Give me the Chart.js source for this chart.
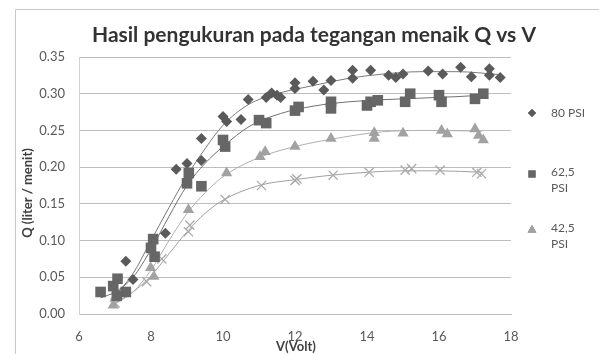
<!DOCTYPE html>
<html>
<head>
<meta charset="utf-8">
<script src="https://cdn.jsdelivr.net/npm/chart.js@4.4.1/dist/chart.umd.min.js"></script>
<style>
  html, body { margin: 0; padding: 0; background: #fff; }
  canvas { display: block; }
</style>
</head>
<body>
<canvas id="chart" width="599" height="354"></canvas>
<script>
// measured points, V (volt) vs Q (liter / menit)
const v80 = [7.3, 7.5, 8.4, 8.7, 9.0, 9.4, 9.4, 10.0, 10.1, 10.5, 10.7, 11.2, 11.35, 11.5, 11.6, 12.0, 12.0, 12.5, 12.8, 13.0, 13.6, 13.6, 14.1, 14.6, 14.8, 15.0, 15.7, 16.1, 16.6, 16.9, 17.4, 17.4, 17.7];
const q80 = [0.072, 0.047, 0.110, 0.197, 0.205, 0.239, 0.209, 0.269, 0.262, 0.265, 0.292, 0.295, 0.301, 0.298, 0.295, 0.315, 0.307, 0.317, 0.305, 0.318, 0.332, 0.321, 0.332, 0.325, 0.322, 0.327, 0.331, 0.327, 0.336, 0.323, 0.334, 0.325, 0.322];

const v62 = [6.6, 6.95, 7.07, 7.3, 7.05, 8.06, 8.0, 8.1, 9.0, 9.05, 9.4, 10.0, 10.06, 11.0, 11.2, 12.0, 12.1, 13.0, 13.0, 14.0, 14.1, 14.3, 15.06, 15.2, 16.0, 16.07, 17.0, 17.23];
const q62 = [0.030, 0.038, 0.048, 0.030, 0.025, 0.102, 0.090, 0.078, 0.178, 0.192, 0.174, 0.237, 0.228, 0.264, 0.260, 0.277, 0.282, 0.289, 0.280, 0.284, 0.289, 0.291, 0.289, 0.300, 0.298, 0.289, 0.293, 0.300];

const v42 = [6.95, 7.0, 7.99, 8.08, 9.04, 10.1, 11.03, 11.17, 12.0, 13.0, 14.2, 14.2, 15.0, 16.07, 16.23, 17.0, 17.1, 17.23];
const q42 = [0.012, 0.021, 0.063, 0.051, 0.142, 0.192, 0.214, 0.221, 0.228, 0.239, 0.247, 0.239, 0.246, 0.250, 0.245, 0.252, 0.243, 0.237];

const v22 = [7.0, 7.88, 8.3, 9.04, 9.08, 10.06, 11.07, 12.0, 12.05, 13.06, 14.06, 15.06, 15.24, 16.03, 17.05, 17.18];
const q22 = [0.015, 0.044, 0.075, 0.112, 0.121, 0.156, 0.175, 0.182, 0.184, 0.189, 0.193, 0.196, 0.198, 0.196, 0.193, 0.191];

// trendlines
const t80v = [7.0, 7.5, 8.0, 8.5, 9.0, 9.5, 10.0, 10.7, 11.5, 12.5, 13.5, 14.5, 15.5, 16.5, 17.7];
const t80q = [0.025, 0.055, 0.100, 0.145, 0.188, 0.225, 0.257, 0.285, 0.300, 0.311, 0.321, 0.327, 0.330, 0.330, 0.326];
const t62v = [6.6, 7.0, 7.5, 8.0, 8.5, 9.0, 9.5, 10.0, 10.75, 11.6, 12.5, 13.5, 14.5, 15.5, 16.5, 17.2];
const t62q = [0.022, 0.030, 0.050, 0.088, 0.133, 0.175, 0.205, 0.228, 0.256, 0.273, 0.283, 0.289, 0.292, 0.294, 0.296, 0.298];
const t42v = [6.95, 7.5, 8.0, 8.5, 9.0, 9.5, 10.0, 11.0, 12.0, 13.0, 14.4, 15.6, 17.2];
const t42q = [0.012, 0.030, 0.060, 0.100, 0.137, 0.165, 0.187, 0.213, 0.228, 0.238, 0.248, 0.250, 0.249];
const t22v = [7.0, 7.5, 8.0, 8.5, 9.0, 9.5, 10.0, 11.0, 12.0, 13.0, 14.0, 15.0, 16.0, 17.2];
const t22q = [0.015, 0.030, 0.052, 0.082, 0.112, 0.137, 0.155, 0.175, 0.183, 0.189, 0.193, 0.195, 0.195, 0.193];

const seriesLabels = ["80 PSI", "62,5 PSI", "42,5 PSI", "22,5 PSI"];
const legendLines = [["80 PSI"], ["62,5", "PSI"], ["42,5", "PSI"]];
const xTicks = [6, 8, 10, 12, 14, 16, 18];
const yTicks = [0, 0.05, 0.10, 0.15, 0.20, 0.25, 0.30, 0.35];

const titleText = "Hasil pengukuran pada tegangan menaik Q vs V";
const xTitle = "V(Volt)";
const yTitle = "Q (liter / menit)";

function pts(xs, ys) {
  return xs.map((x, i) => ({ x: x, y: ys[i] }));
}

function markers(label, xs, ys, style, color, radius) {
  return {
    label: label,
    data: pts(xs, ys),
    pointStyle: style,
    pointRadius: radius,
    backgroundColor: color,
    borderColor: color,
    borderWidth: style === "crossRot" ? 1.3 : 0,
    showLine: false,
  };
}

function trend(xs, ys, color) {
  return {
    label: "trend",
    data: pts(xs, ys),
    showLine: true,
    pointRadius: 0,
    borderColor: color,
    borderWidth: 1,
    cubicInterpolationMode: "monotone",
    fill: false,
  };
}

const FONT = "Lato, 'Open Sans', sans-serif";

const decor = {
  id: "decor",
  afterDraw(chart) {
    const ctx = chart.ctx;
    ctx.save();
    // outer frame
    ctx.strokeStyle = "#c8c8c8";
    ctx.lineWidth = 1;
    ctx.beginPath();
    ctx.moveTo(15.5, 354);
    ctx.lineTo(15.5, 9.5);
    ctx.lineTo(599, 9.5);
    ctx.stroke();

    // title
    ctx.fillStyle = "#333333";
    ctx.font = "bold 21px " + FONT;
    ctx.textAlign = "center";
    ctx.textBaseline = "alphabetic";
    ctx.fillText(titleText, 314, 42);

    // axis titles
    ctx.font = "bold 13px " + FONT;
    ctx.fillStyle = "#404040";
    ctx.fillText(xTitle, 296, 351);
    ctx.save();
    ctx.translate(32, 193);
    ctx.rotate(-Math.PI / 2);
    ctx.fillText(yTitle, 0, 0);
    ctx.restore();

    // legend
    const lx = 532, tx = 551;
    const rows = [113, 172, 228];
    const ds = chart.data.datasets;
    ctx.font = "12px " + FONT;
    ctx.textAlign = "left";
    ctx.textBaseline = "middle";
    legendLines.forEach((lines, i) => {
      const d = ds[i];
      Chart.helpers.drawPoint(ctx, {
        pointStyle: d.pointStyle,
        radius: i === 0 ? 4 : 5,
        borderWidth: 0,
      }, lx, rows[i] + (i === 0 ? 0 : 2));
      ctx.fillStyle = d.backgroundColor;
      ctx.fill();
      ctx.fillStyle = "#595959";
      lines.forEach((t, j) => ctx.fillText(t, tx, rows[i] + j * 16));
    });
    ctx.restore();
  },
};

new Chart(document.getElementById("chart"), {
  type: "scatter",
  data: {
    datasets: [
      markers(seriesLabels[0], v80, q80, "rectRot", "#5a5a5a", 5.5),
      markers(seriesLabels[1], v62, q62, "rect", "#666666", 7.5),
      markers(seriesLabels[2], v42, q42, "triangle", "#a2a2a2", 6.5),
      markers(seriesLabels[3], v22, q22, "crossRot", "#aaaaaa", 6.5),
      trend(t80v, t80q, "#7a7a7a"),
      trend(t62v, t62q, "#707070"),
      trend(t42v, t42q, "#b0b0b0"),
      trend(t22v, t22q, "#a0a0a0"),
    ],
  },
  options: {
    responsive: false,
    animation: false,
    layout: { padding: { left: 0, right: 88, top: 57, bottom: 0 } },
    plugins: {
      legend: { display: false },
      title: { display: false },
      tooltip: { enabled: false },
    },
    scales: {
      x: {
        type: "linear",
        min: 6,
        max: 18,
        afterBuildTicks: (s) => { s.ticks = xTicks.map((v) => ({ value: v })); },
        afterFit: (s) => { s.height = 40; },
        grid: { display: false, drawTicks: false },
        border: { display: true, color: "#bdbdbd" },
        ticks: {
          padding: 15,
          color: "#595959",
          font: { family: FONT, size: 13 },
        },
      },
      y: {
        min: 0,
        max: 0.35,
        afterBuildTicks: (s) => { s.ticks = yTicks.map((v) => ({ value: v })); },
        afterFit: (s) => { s.width = 79; },
        grid: { color: "#bdbdbd", lineWidth: 1, drawTicks: false },
        border: { display: true, color: "#d0d0d0" },
        ticks: {
          padding: 14,
          color: "#595959",
          font: { family: FONT, size: 13 },
          callback: (v) => v.toFixed(2),
        },
      },
    },
  },
  plugins: [decor],
});
</script>
</body>
</html>
